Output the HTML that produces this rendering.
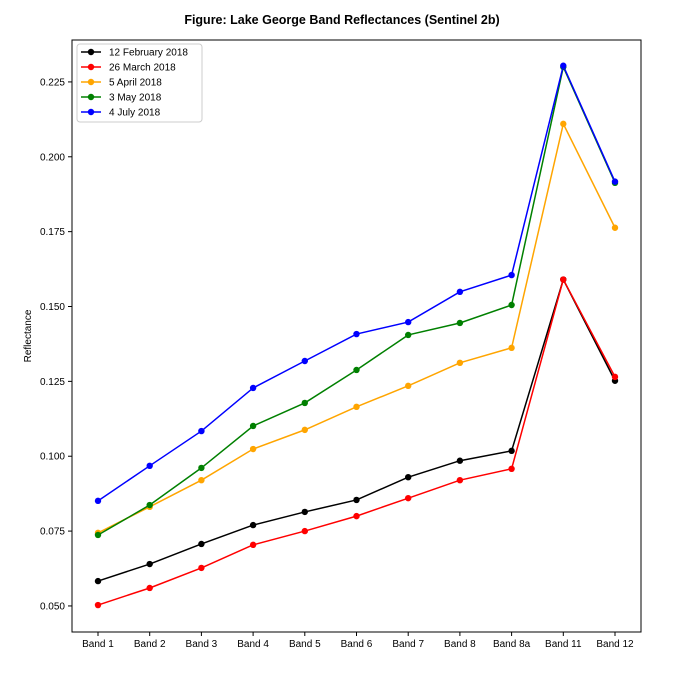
<!DOCTYPE html>
<html><head><meta charset="utf-8"><style>
body{margin:0;background:#fff;font-family:"Liberation Sans",sans-serif}
text{font-family:"Liberation Sans",sans-serif}
</style></head><body>
<svg id="c" width="684" height="684" xmlns="http://www.w3.org/2000/svg">
<text x="342" y="24" text-anchor="middle" font-size="12.5" font-weight="bold">Figure: Lake George Band Reflectances (Sentinel 2b)</text>
<text transform="translate(31,336) rotate(-90)" text-anchor="middle" font-size="10">Reflectance</text>
<g id="axes"></g>
<g id="series"></g>
<rect x="72" y="40" width="569" height="592" fill="none" stroke="#000" stroke-width="1"/>
<g id="legend"></g>
</svg>
<script>
const categories=["Band 1","Band 2","Band 3","Band 4","Band 5","Band 6","Band 7","Band 8","Band 8a","Band 11","Band 12"];
const seriesNames=["12 February 2018","26 March 2018","5 April 2018","3 May 2018","4 July 2018"];
const seriesColors=["black","red","orange","green","blue"];
const feb=[0.0583,0.064,0.0707,0.077,0.0814,0.0854,0.093,0.0985,0.1018,0.159,0.1252];
const mar=[0.0503,0.056,0.0627,0.0704,0.075,0.080,0.086,0.092,0.0958,0.159,0.1265];
const apr=[0.0744,0.0831,0.092,0.1024,0.1088,0.1165,0.1235,0.1312,0.1362,0.211,0.1763];
const may=[0.0737,0.0837,0.0961,0.1101,0.1178,0.1288,0.1405,0.1445,0.1505,0.230,0.1913];
const jul=[0.0851,0.0968,0.1084,0.1228,0.1318,0.1408,0.1448,0.1549,0.1605,0.2304,0.1917];
const yTicks=[0.050,0.075,0.100,0.125,0.150,0.175,0.200,0.225];
const allSeries=[feb,mar,apr,may,jul];
const NS="http://www.w3.org/2000/svg";
const x0=72,x1=641,y0=40,y1=632,yMin=0.0413,yMax=0.2390;
const xs=i=>98+i*(615-98)/(categories.length-1);
const ys=v=>y1-(v-yMin)/(yMax-yMin)*(y1-y0);
function mk(t,a,p){const e=document.createElementNS(NS,t);for(const k in a)e.setAttribute(k,a[k]);p.appendChild(e);return e;}
const ax=document.getElementById('axes');
yTicks.forEach(v=>{const y=ys(v);
const l=mk('line',{x1:x0-4,x2:x0,y1:y,y2:y,stroke:'#000'},ax);


const t=mk('text',{x:x0-7,y:y+3.5,'text-anchor':'end','font-size':'10'},ax);t.textContent=v.toFixed(3);

});
categories.forEach((c,i)=>{const x=xs(i);
const l=mk('line',{x1:x,x2:x,y1:y1,y2:y1+4,stroke:'#000'},ax);


const t=mk('text',{x:x,y:y1+15,'text-anchor':'middle','font-size':'10'},ax);t.textContent=c;

});
const sg=document.getElementById('series');
allSeries.forEach((s,k)=>{const g=mk('g',{},sg);


mk('polyline',{points:s.map((v,i)=>xs(i)+','+ys(v)).join(' '),fill:'none',stroke:seriesColors[k],'stroke-width':1.5},g);
s.forEach((v,i)=>{const c=mk('circle',{cx:xs(i),cy:ys(v),r:3.2,fill:seriesColors[k]},g);

});});
const lg=document.getElementById('legend');


mk('rect',{x:77,y:44,width:125,height:78,rx:3,fill:'#fff',stroke:'#ccc'},lg);
seriesNames.forEach((n,k)=>{const y=52+k*15;const g=mk('g',{},lg);


mk('line',{x1:81,x2:101,y1:y,y2:y,stroke:seriesColors[k],'stroke-width':1.5},g);
mk('circle',{cx:91,cy:y,r:3.2,fill:seriesColors[k]},g);
const t=mk('text',{x:109,y:y+3.5,'font-size':'10'},g);t.textContent=n;});
</script>
</body></html>
